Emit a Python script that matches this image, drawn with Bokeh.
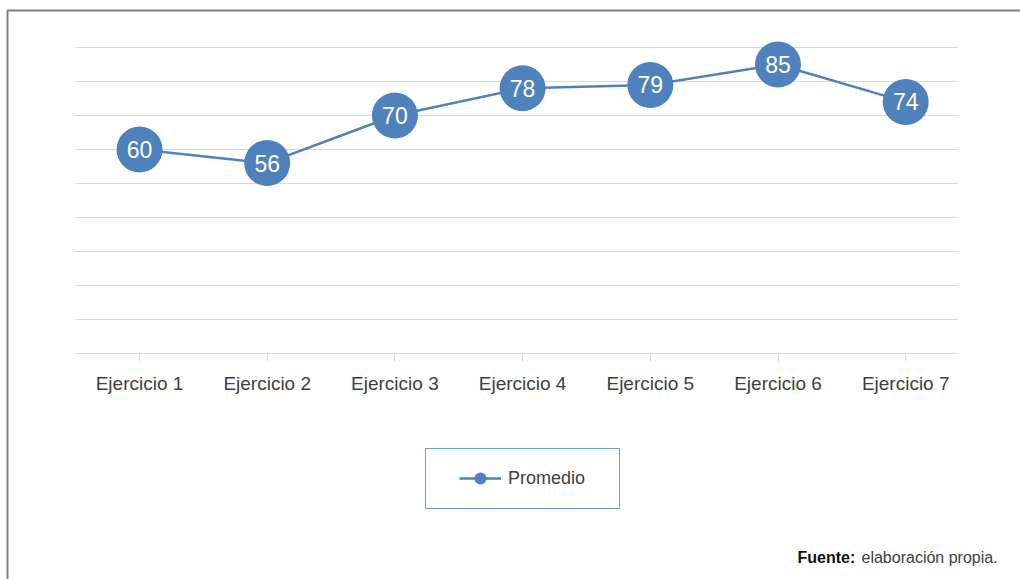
from bokeh.plotting import figure
from bokeh.models import (ColumnDataSource, FixedTicker, Legend, LegendItem,
                          BoxAnnotation, Label, Range1d)
from bokeh.core.properties import value
from bokeh.embed import file_html
from bokeh.resources import INLINE

categories = ["Ejercicio 1", "Ejercicio 2", "Ejercicio 3", "Ejercicio 4",
              "Ejercicio 5", "Ejercicio 6", "Ejercicio 7"]
promedio = [60, 56, 70, 78, 79, 85, 74]
series_name = "Promedio"
grid_ticks = [10, 20, 30, 40, 50, 60, 70, 80, 90]
source_bold = "Fuente:"
source_text = "elaboración propia."

BLUE = "#4F81BD"
FONT = "Liberation Sans"
W, H = 1020, 579

# category slots: slot i spans [i, i+1]; the point sits at its centre
xpos = [i + 0.5 for i in range(len(categories))]

src = ColumnDataSource(dict(x=xpos, y=promedio,
                            label=[str(v) for v in promedio]))

# plot area spans the whole canvas so that every annotation stays visible
px_per_slot = 127.7
px_per_unit = 3.4
x0 = -75.15 / px_per_slot
x_range = Range1d(x0, x0 + W / px_per_slot)
y_range = Range1d(-(H - 353) / px_per_unit, 353 / px_per_unit)
grid_end = (958 - 75.15) / px_per_slot

p = figure(width=W, height=H, x_range=x_range, y_range=y_range,
           output_backend="svg", toolbar_location=None,
           min_border_left=0, min_border_right=0,
           min_border_top=0, min_border_bottom=0)
p.outline_line_color = None
p.background_fill_color = "white"
p.border_fill_color = "white"

p.yaxis.visible = False
p.ygrid.ticker = FixedTicker(ticks=grid_ticks)
p.ygrid.cross_bounds = (0, grid_end)
p.ygrid.grid_line_color = "#d9d9d9"
p.ygrid.grid_line_width = 1
p.xgrid.visible = False

xa = p.xaxis[0]
xa.fixed_location = 0
xa.bounds = (0, grid_end)
xa.ticker = FixedTicker(ticks=xpos)
xa.major_label_overrides = {x: c for x, c in zip(xpos, categories)}
xa.axis_line_color = "#d9d9d9"
xa.axis_line_width = 1
xa.major_tick_line_color = "#d9d9d9"
xa.major_tick_in = 0
xa.major_tick_out = 8
xa.minor_tick_line_color = None
xa.major_label_text_font = FONT
xa.major_label_text_font_size = "19px"
xa.major_label_text_color = "#404040"
xa.major_label_standoff = 11

ln = p.line("x", "y", source=src, line_color=BLUE, line_width=2.5)
sc = p.scatter("x", "y", source=src, size=46, fill_color=BLUE, line_color=None)
p.text("x", "y", text="label", source=src, text_color="white",
       text_font=value(FONT), text_font_size="23px",
       text_align="center", text_baseline="middle")

legend = Legend(items=[LegendItem(label=series_name, renderers=[ln, sc])],
                location=(459, 86), orientation="horizontal",
                border_line_alpha=0, background_fill_alpha=0,
                padding=0, margin=0, glyph_width=42, glyph_height=30,
                label_standoff=7, label_text_font=FONT,
                label_text_font_size="18px", label_text_color="#404040")
p.add_layout(legend, "center")

legend_box = BoxAnnotation(left=425, right=619, top=H - 448, bottom=H - 508,
                           left_units="screen", right_units="screen",
                           top_units="screen", bottom_units="screen",
                           fill_alpha=0, line_color="#6f9ad4", line_alpha=1,
                           line_width=1)
p.add_layout(legend_box)

outer = BoxAnnotation(left=7, right=1300, top=H - 10, bottom=-300,
                      left_units="screen", right_units="screen",
                      top_units="screen", bottom_units="screen",
                      fill_alpha=0, line_color="#808080", line_alpha=1,
                      line_width=2)
p.add_layout(outer)

p.add_layout(Label(x=797, y=22, x_units="screen", y_units="screen",
                   text=source_bold, text_font=FONT, text_font_style="bold",
                   text_font_size="16px", text_color="#111111",
                   text_baseline="alphabetic"))
p.add_layout(Label(x=861, y=22, x_units="screen", y_units="screen",
                   text=source_text, text_font=FONT,
                   text_font_size="16px", text_color="#404040",
                   text_baseline="alphabetic"))

open("out.html", "w").write(file_html(p, INLINE))
